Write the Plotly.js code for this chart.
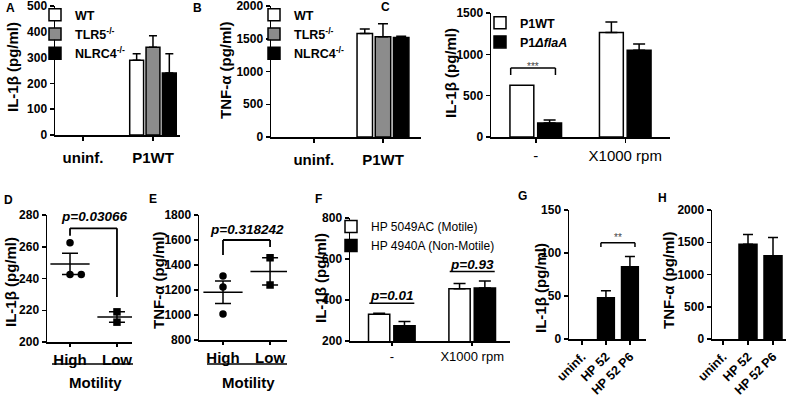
<!DOCTYPE html>
<html>
<head>
<meta charset="utf-8">
<script src="https://cdn.plot.ly/plotly-3.0.1.min.js"></script>
<style>
  html, body { margin: 0; padding: 0; background: #fff; }
  #chart { width: 787px; height: 400px; }
</style>
</head>
<body>
<div id="chart"></div>
<script>
// --- DATA ---
// A / B: mouse genotypes, uninfected vs P1WT (uninf. = not detected)
const groupsAB = ['uninf.', 'P1WT'];
const genotypes = ['WT', 'TLR5<sup>-/-</sup>', 'NLRC4<sup>-/-</sup>'];
const il1bA = [[null, 290], [null, 340], [null, 240]];
const il1bAErr = [[null, 25], [null, 45], [null, 75]];
const tnfB = [[null, 1580], [null, 1530], [null, 1520]];
const tnfBErr = [[null, 70], [null, 200], [null, 20]];

// C: P1WT vs flaA mutant, static vs centrifuged
const groupsC = ['-', 'X1000 rpm'];
const strainsC = ['P1WT', 'P1<i>ΔflaA</i>'];
const il1bC = [[625, 1265], [170, 1050]];
const il1bCErr = [[null, 125], [35, 75]];

// D / E: individual strains by motility
const motility = ['High', 'Low'];
const il1bD = [[262.5, 242.5, 242.5], [219, 212.5]];
const tnfE = [[1312, 1224, 1008], [1458, 1240]];
const pD = 'p=0.03066';
const pE = 'p=0.318242';

// F: motile vs non-motile isolate
const groupsF = ['-', 'X1000 rpm'];
const strainsF = ['HP 5049AC (Motile)', 'HP 4940A (Non-Motile)'];
const il1bF = [[330, 455], [275, 458]];
const il1bFErr = [[5, 25], [20, 35]];
const pF = ['p=0.01', 'p=0.93'];

// G / H: HP 52 passages
const groupsGH = ['uninf.', 'HP 52', 'HP 52 P6'];
const il1bG = [null, 48, 84];
const il1bGErr = [null, 8, 12];
const tnfH = [null, 1470, 1290];
const tnfHErr = [null, 150, 285];

// --- HELPERS ---
const W = 787, H = 400;
const FONT = 'Arial, "Liberation Sans", Helvetica, sans-serif';

function xdom(a, b) { return [a / W, b / W]; }
function ydom(top, bottom) { return [1 - bottom / H, 1 - top / H]; }

function axis(extra) {
    return Object.assign({
        showline: true, linecolor: '#000', linewidth: 1.5,
        ticks: 'outside', ticklen: 4, tickwidth: 1.5, tickcolor: '#000',
        showgrid: false, zeroline: false, fixedrange: true,
        ticklabeloverflow: 'allow',
        tickfont: { family: FONT, size: 12, weight: 'bold', color: '#000' },
    }, extra);
}

// one-sided (upper) error bars; missing errors become NaN so no cap is drawn
function upErr(errs, cap) {
    return {
        type: 'data', symmetric: false,
        array: errs.map(e => (e === null ? NaN : e)),
        arrayminus: errs.map(e => (e === null ? NaN : 0)),
        color: '#000', thickness: 1.5, width: cap,
    };
}

const outline = { color: '#000', width: 1.5 };

function groupedBars(cats, values, errs, names, fills, ax, legendId, groupWidth, innerGap, cap) {
    const slot = groupWidth / values.length;
    const w = slot * (1 - innerGap);
    return values.map((vals, i) => ({
        type: 'bar', name: names[i], x: cats, y: vals,
        xaxis: 'x' + ax, yaxis: 'y' + ax, legend: legendId,
        width: w, offset: -groupWidth / 2 + i * slot + (slot - w) / 2,
        marker: { color: fills[i], line: outline },
        error_y: upErr(errs[i], cap),
    }));
}

const mean = a => a.reduce((s, v) => s + v, 0) / a.length;
const sem = a => {
    const m = mean(a);
    const sd = Math.sqrt(a.reduce((s, v) => s + (v - m) * (v - m), 0) / (a.length - 1));
    return sd / Math.sqrt(a.length);
};

function dotPlot(groups, ax, span) {
    const symbols = ['circle', 'square'];
    const traces = groups.map((vals, g) => ({
        type: 'scatter', mode: 'markers', showlegend: false,
        // side-step points that would sit on top of each other
        x: vals.map((v, i) => g + 0.24 * vals.slice(0, i).filter(u => Math.abs(u - v) < span * 0.05).length),
        y: vals,
        xaxis: 'x' + ax, yaxis: 'y' + ax,
        marker: { symbol: symbols[g], size: 7.5, color: '#000' },
    }));
    traces.push({
        type: 'scatter', mode: 'markers', showlegend: false,
        x: groups.map((_, g) => g), y: groups.map(mean),
        xaxis: 'x' + ax, yaxis: 'y' + ax,
        marker: { symbol: 'line-ew-open', size: 28, color: '#000', line: { color: '#000', width: 1.5 } },
        error_y: { type: 'data', array: groups.map(sem), color: '#000', thickness: 1.5, width: 8 },
    });
    return traces;
}

function line(ax, x0, y0, x1, y1, w) {
    return { type: 'line', xref: 'x' + ax, yref: 'y' + ax, x0, y0, x1, y1, line: { color: '#000', width: w || 1.5 } };
}
function bracket(ax, xl, xr, yTop, yL, yR, w) {
    return [line(ax, xl, yL, xl, yTop, w), line(ax, xl, yTop, xr, yTop, w), line(ax, xr, yTop, xr, yR, w)];
}

function paperText(text, px, py, size, extra) {
    return Object.assign({
        xref: 'paper', yref: 'paper', x: px / W, y: 1 - py / H, text, showarrow: false,
        xanchor: 'center', yanchor: 'middle',
        font: { family: FONT, size, color: '#000', weight: 'bold' },
    }, extra);
}
function yTitle(text, px, py) {
    return paperText(text, px, py, 15, { textangle: -90 });
}
function dataText(ax, text, x, y, size, extra) {
    return Object.assign({
        xref: 'x' + ax, yref: 'y' + ax, x, y, text, showarrow: false,
        xanchor: 'center', yanchor: 'bottom',
        font: { family: FONT, size, color: '#000' },
    }, extra);
}

// --- TRACES ---
const white = '#ffffff', grey = '#8c8c8c', black = '#000000';

const traces = [
    ...groupedBars(groupsAB, il1bA, il1bAErr, genotypes, [white, grey, black], '', 'legend', 0.7, 0.15, 4),
    ...groupedBars(groupsAB, tnfB, tnfBErr, genotypes, [white, grey, black], '2', 'legend2', 0.79, 0.15, 5),
    ...groupedBars(groupsC, il1bC, il1bCErr, strainsC, [white, black], '3', 'legend3', 0.62, 0.14, 6),
    ...dotPlot(il1bD, '4', 80),
    ...dotPlot(tnfE, '5', 1000),
    ...groupedBars(groupsF, il1bF, il1bFErr, strainsF, [white, black], '6', 'legend4', 0.63, 0.16, 6),
    {
        type: 'bar', x: groupsGH, y: il1bG, width: 0.7, showlegend: false,
        xaxis: 'x7', yaxis: 'y7',
        marker: { color: black, line: outline },
        error_y: upErr(il1bGErr, 5),
    },
    {
        type: 'bar', x: groupsGH, y: tnfH, width: 0.72, showlegend: false,
        xaxis: 'x8', yaxis: 'y8',
        marker: { color: black, line: outline },
        error_y: upErr(tnfHErr, 5),
    },
];

// --- LAYOUT ---
const catFontBold = { family: FONT, size: 15, weight: 'bold', color: '#000' };
const catFontPlain = { family: FONT, size: 15, weight: 'normal', color: '#000' };
const rotFont = { family: FONT, size: 12.5, weight: 'bold', color: '#000' };

function legendBox(px, py, size, weight) {
    return {
        x: px / W, y: 1 - py / H, xanchor: 'left', yanchor: 'top',
        bgcolor: 'rgba(0,0,0,0)', traceorder: 'normal',
        font: { family: FONT, size, color: '#000', weight },
    };
}

const catAxis = cats => ({ type: 'category', categoryorder: 'array', categoryarray: cats });

const layout = {
    width: W, height: H,
    margin: { l: 0, r: 0, t: 0, b: 0 },
    paper_bgcolor: '#fff', plot_bgcolor: '#fff',
    barmode: 'overlay',
    showlegend: true,

    xaxis: axis({ ...catAxis(groupsAB), domain: xdom(55, 180), anchor: 'y', range: [-0.4, 1.386], tickfont: catFontBold, ticklabelstandoff: 4 }),
    yaxis: axis({ domain: ydom(6, 135), anchor: 'x', range: [0, 500], dtick: 100 }),
    xaxis2: axis({ ...catAxis(groupsAB), domain: xdom(271, 421), anchor: 'y2', range: [-0.62, 1.55], tickfont: catFontBold, ticklabelstandoff: 4 }),
    yaxis2: axis({ domain: ydom(6, 137), anchor: 'x2', range: [0, 2000], dtick: 500 }),
    xaxis3: axis({ ...catAxis(groupsC), domain: xdom(491, 670), anchor: 'y3', range: [-0.5, 1.5], tickfont: catFontPlain }),
    yaxis3: axis({ domain: ydom(13, 137), anchor: 'x3', range: [0, 1500], dtick: 500 }),
    xaxis4: axis({ domain: xdom(47, 132), anchor: 'y4', range: [-0.49, 1.32], tickvals: [0, 1], ticktext: motility, tickfont: catFontBold, ticklen: 3 }),
    yaxis4: axis({ domain: ydom(215, 342), anchor: 'x4', range: [200, 280], dtick: 20 }),
    xaxis5: axis({ domain: xdom(199, 287), anchor: 'y5', range: [-0.51, 1.36], tickvals: [0, 1], ticktext: motility, tickfont: catFontBold, ticklen: 3 }),
    yaxis5: axis({ domain: ydom(215, 340), anchor: 'x5', range: [800, 1800], dtick: 200 }),
    xaxis6: axis({ ...catAxis(groupsF), domain: xdom(350, 510), anchor: 'y6', range: [-0.52, 1.47], tickfont: { family: FONT, size: 13, color: '#000' }, ticklen: 3 }),
    yaxis6: axis({ domain: ydom(218, 341), anchor: 'x6', range: [200, 800], dtick: 200 }),
    xaxis7: axis({ ...catAxis(groupsGH), domain: xdom(569, 646), anchor: 'y7', range: [-0.54, 2.67], tickangle: -45, tickfont: rotFont }),
    yaxis7: axis({ domain: ydom(210, 339), anchor: 'x7', range: [0, 150], dtick: 50 }),
    xaxis8: axis({ ...catAxis(groupsGH), domain: xdom(712, 786), anchor: 'y8', range: [-0.44, 2.52], tickangle: -45, tickfont: rotFont }),
    yaxis8: axis({ domain: ydom(210, 339), anchor: 'x8', range: [0, 2000], dtick: 500 }),

    legend: legendBox(35, 0, 12.5, 'bold'),
    legend2: legendBox(254, 0, 12.5, 'bold'),
    legend3: legendBox(480, 8, 12.5, 'bold'),
    legend4: legendBox(331, 212, 12, 'normal'),

    shapes: [
        ...bracket('3', -0.28, 0.22, 835, 750, 750),
        ...bracket('4', 0, 1, 271.6, 267, 228.4, 1.8),
        ...bracket('5', 0, 1, 1600, 1480, 1544, 1.8),
        line('6', -0.28, 384, 0.28, 384),
        line('6', 0.72, 539, 1.28, 539),
        ...bracket('7', 0.79, 2.21, 112, 107, 107),
        // "Motility" underlines
        { type: 'line', xref: 'paper', yref: 'paper', x0: 52 / W, x1: 133 / W, y0: 1 - 364 / H, y1: 1 - 364 / H, line: { color: '#000', width: 1.5 } },
        { type: 'line', xref: 'paper', yref: 'paper', x0: 207 / W, x1: 287 / W, y0: 1 - 364 / H, y1: 1 - 364 / H, line: { color: '#000', width: 1.5 } },
    ],

    annotations: [
        // panel letters
        paperText('A', 10, 8, 12), paperText('B', 197, 8, 12), paperText('C', 385, 7, 12),
        paperText('D', 8, 200, 12), paperText('E', 153, 199, 12), paperText('F', 318, 199, 12),
        paperText('G', 522, 196, 12), paperText('H', 662, 198, 12),
        // y titles
        yTitle('IL-1β (pg/ml)', 12, 67),
        yTitle('TNF-α (pg/ml)', 225, 70),
        yTitle('IL-1β (pg/ml)', 450, 73),
        yTitle('IL-1β (pg/ml)', 10, 282),
        yTitle('TNF-α (pg/ml)', 158, 280),
        yTitle('IL-1β (pg/ml)', 320, 278),
        yTitle('IL-1β (pg/ml)', 540, 288),
        yTitle('TNF-α (pg/ml)', 668, 280),
        // x group titles
        paperText('Motility', 95, 382, 15),
        paperText('Motility', 248, 382, 15),
        // significance
        dataText('3', '***', -0.03, 850, 10, { yanchor: 'middle', font: { family: FONT, size: 10, color: '#444' } }),
        dataText('4', '<b><i>' + pD + '</i></b>', 0.52, 273, 13.5),
        dataText('5', '<b><i>' + pE + '</i></b>', 0.52, 1610, 13.5),
        dataText('6', '<b><i>' + pF[0] + '</i></b>', 0, 384, 13.5, { yshift: -2 }),
        dataText('6', '<b><i>' + pF[1] + '</i></b>', 1, 539, 13.5, { yshift: -2 }),
        dataText('7', '**', 1.5, 118, 10, { yanchor: 'middle', font: { family: FONT, size: 10, color: '#444' } }),
    ],
};

Plotly.newPlot('chart', traces, layout, { displayModeBar: false, staticPlot: true });
</script>
</body>
</html>
